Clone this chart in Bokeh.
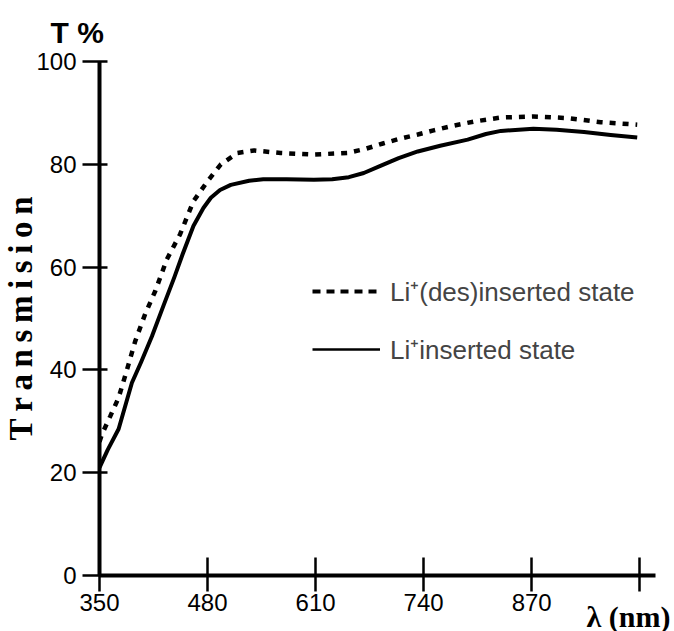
import numpy as np
from bokeh.plotting import figure
from bokeh.models import Range1d, FixedTicker, Legend, LegendItem, Title
from bokeh.embed import file_html
from bokeh.resources import INLINE

# ---------------- data ----------------
wavelength_ticks = [350, 480, 610, 740, 870, 1000]
transmission_ticks = [0, 20, 40, 60, 80, 100]

deinserted_wl = [350, 353, 363, 373, 383, 393, 405, 417, 431, 447, 463, 480, 496, 516,
                 536, 568, 608, 648, 670, 692, 712, 733, 752, 773, 800, 833, 872, 913,
                 953, 997]
deinserted_t = [26, 27.5, 31, 34.6, 40, 45.6, 50.9, 55.3, 61.5, 66.4, 72.8, 76.7, 80,
                82.2, 82.7, 82.2, 81.9, 82.2, 83, 84.1, 85, 85.8, 86.6, 87.4, 88.3, 89.1,
                89.3, 89.0, 88.2, 87.7]

inserted_wl = [350, 360, 373, 389, 400, 413, 427, 440, 450, 463, 475, 484, 495, 508,
               530, 547, 575, 608, 630, 650, 668, 688, 710, 733, 760, 793, 815, 833,
               872, 900, 933, 965, 997]
inserted_t = [21, 24.5, 28.5, 37.5, 41.5, 46.5, 52.5, 58, 62.5, 68, 71.5, 73.5, 75, 76,
              76.8, 77.1, 77.1, 77, 77.1, 77.5, 78.3, 79.7, 81.2, 82.5, 83.6, 84.8, 85.9,
              86.5, 86.9, 86.7, 86.3, 85.7, 85.2]

label_des = "Li\u207a(des)inserted state"
label_ins = "Li\u207ainserted state"
y_title = "Transmision"
x_title = "\u03bb (nm)"
unit_title = "T %"

# ---------------- layout ----------------
W, H = 674, 631
p = figure(width=W, height=H, output_backend="svg", toolbar_location=None,
           x_range=Range1d(350, 1019), y_range=Range1d(0, 100),
           min_border_left=99, min_border_right=19, min_border_top=60,
           min_border_bottom=56)
p.outline_line_color = None
p.grid.visible = False
p.background_fill_color = "white"
p.border_fill_color = "white"

for ax in (p.xaxis[0], p.yaxis[0]):
    ax.axis_line_width = 4
    ax.axis_line_color = "black"
    ax.major_tick_line_width = 2.5
    ax.major_tick_line_color = "black"
    ax.minor_tick_line_color = None
    ax.major_label_text_font = "Liberation Sans"
    ax.major_label_text_font_size = "24px"
    ax.major_label_text_color = "black"
    ax.axis_label_text_font = "Liberation Serif"
    ax.axis_label_text_font_style = "bold"
    ax.axis_label_text_color = "black"

p.xaxis.ticker = FixedTicker(ticks=wavelength_ticks)
p.xaxis.major_label_overrides = {1000: ""}
p.xaxis.major_tick_in = 18
p.xaxis.major_tick_out = 16
p.xaxis.major_label_standoff = 2

p.yaxis.ticker = FixedTicker(ticks=transmission_ticks)
p.yaxis.major_tick_in = 8
p.yaxis.major_tick_out = 17
p.yaxis.major_label_standoff = 6
p.yaxis.axis_label = "\u2009".join(y_title)
p.yaxis.axis_label_text_font_size = "33px"
p.yaxis.axis_label_standoff = -6

r_des = p.line(deinserted_wl, deinserted_t, line_width=4.5, line_dash="6 7",
               line_color="black")
r_ins = p.line(inserted_wl, inserted_t, line_width=4, line_color="black",
               line_join="round")

# legend proxies (sample styles as drawn in the key); a NaN point draws nothing
nan_pt = np.array([np.nan])
k_des = p.line(nan_pt, nan_pt, line_width=4, line_dash="8 6", line_color="black")
k_ins = p.line(nan_pt, nan_pt, line_width=2.5, line_color="black")

legend = Legend(items=[LegendItem(label=label_des, renderers=[k_des]),
                       LegendItem(label=label_ins, renderers=[k_ins])],
                location=(213, 208), padding=0, spacing=22, glyph_width=68,
                glyph_height=26, label_height=26, label_standoff=10,
                label_text_font="Liberation Sans", label_text_font_size="26px",
                border_line_color=None, background_fill_alpha=0)
p.add_layout(legend)

p.add_layout(Title(text=unit_title, align="left", offset=-49, standoff=26,
                   text_font="Liberation Sans", text_font_style="bold",
                   text_font_size="30px", text_color="black"), "above")

# x unit label, level with the tick labels at the right end of the axis
p.add_layout(Title(text=x_title, align="right", offset=-15, standoff=-38,
                   text_font="Liberation Serif", text_font_style="bold",
                   text_font_size="30px", text_color="black"), "below")

open("out.html", "w").write(file_html(p, INLINE))
